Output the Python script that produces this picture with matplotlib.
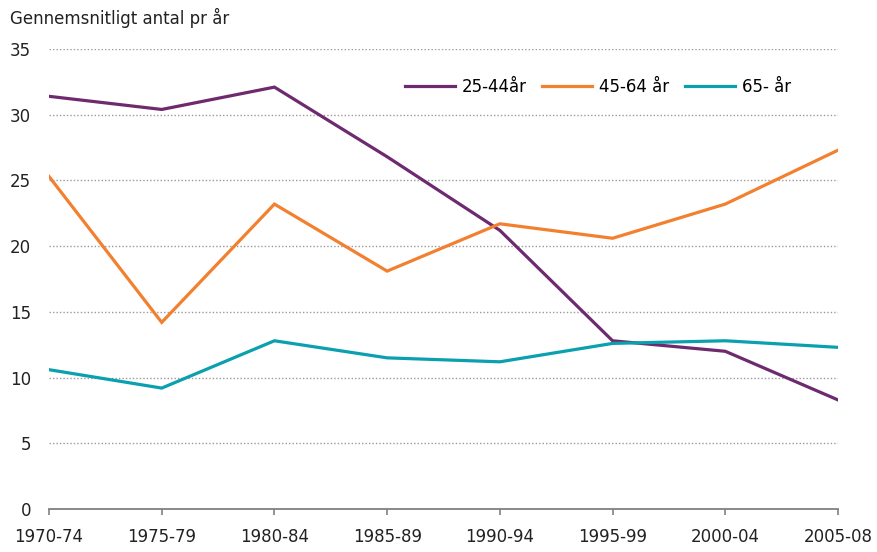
import matplotlib
matplotlib.use("Agg")
from matplotlib import pyplot as plt

periods = ["1970-74", "1975-79", "1980-84", "1985-89", "1990-94", "1995-99", "2000-04", "2005-08"]
age_25_44 = [31.4, 30.4, 32.1, 26.8, 21.2, 12.8, 12.0, 8.3]
age_45_64 = [25.3, 14.2, 23.2, 18.1, 21.7, 20.6, 23.2, 27.3]
age_65 = [10.6, 9.2, 12.8, 11.5, 11.2, 12.6, 12.8, 12.3]
labels = ["25-44år", "45-64 år", "65- år"]
colors = ["#6E2A6E", "#F2802F", "#0AA0AE"]

# reference text is Arial-like but letter-spaced; DejaVu gets the width closer
plt.rcParams["font.family"] = ["DejaVu Sans"]

fig = plt.figure(figsize=(8.78, 5.52), dpi=100)
ax = fig.add_axes([49 / 878, 1 - 509 / 552, (838 - 49) / 878, (509 - 49) / 552])

x = range(len(periods))
for series, lab, col in zip([age_25_44, age_45_64, age_65], labels, colors):
    ax.plot(x, series, color=col, lw=2.3, label=lab, solid_joinstyle="miter")

ax.set_xlim(0, len(periods) - 1)
ax.set_ylim(0, 35)
ax.set_yticks(range(0, 36, 5))
ax.set_xticks(list(x))
ax.set_xticklabels(periods)

for v in range(5, 36, 5):
    ax.axhline(v, color="#9a9a9a", lw=1.0, ls=(0, (1, 1.5)), zorder=0)

for s in ["top", "right", "left"]:
    ax.spines[s].set_visible(False)
ax.spines["bottom"].set_color("#808080")
ax.spines["bottom"].set_linewidth(1.3)
ax.tick_params(axis="x", length=4, width=1.2, color="#808080", labelsize=12, pad=10, labelcolor="#222222")
ax.tick_params(axis="y", length=0, labelsize=12, pad=13, labelcolor="#222222")

fig.text(10 / 878, 1 - 18 / 552, "Gennemsnitligt antal pr år", fontsize=12, color="#222222", va="center", ha="left")

ax.legend(loc="upper left", bbox_to_anchor=(0.432, 0.97), ncol=3, frameon=False, fontsize=12,
          handlelength=3.0, columnspacing=0.95, handletextpad=0.4)

fig.savefig("out.png", dpi=100)
